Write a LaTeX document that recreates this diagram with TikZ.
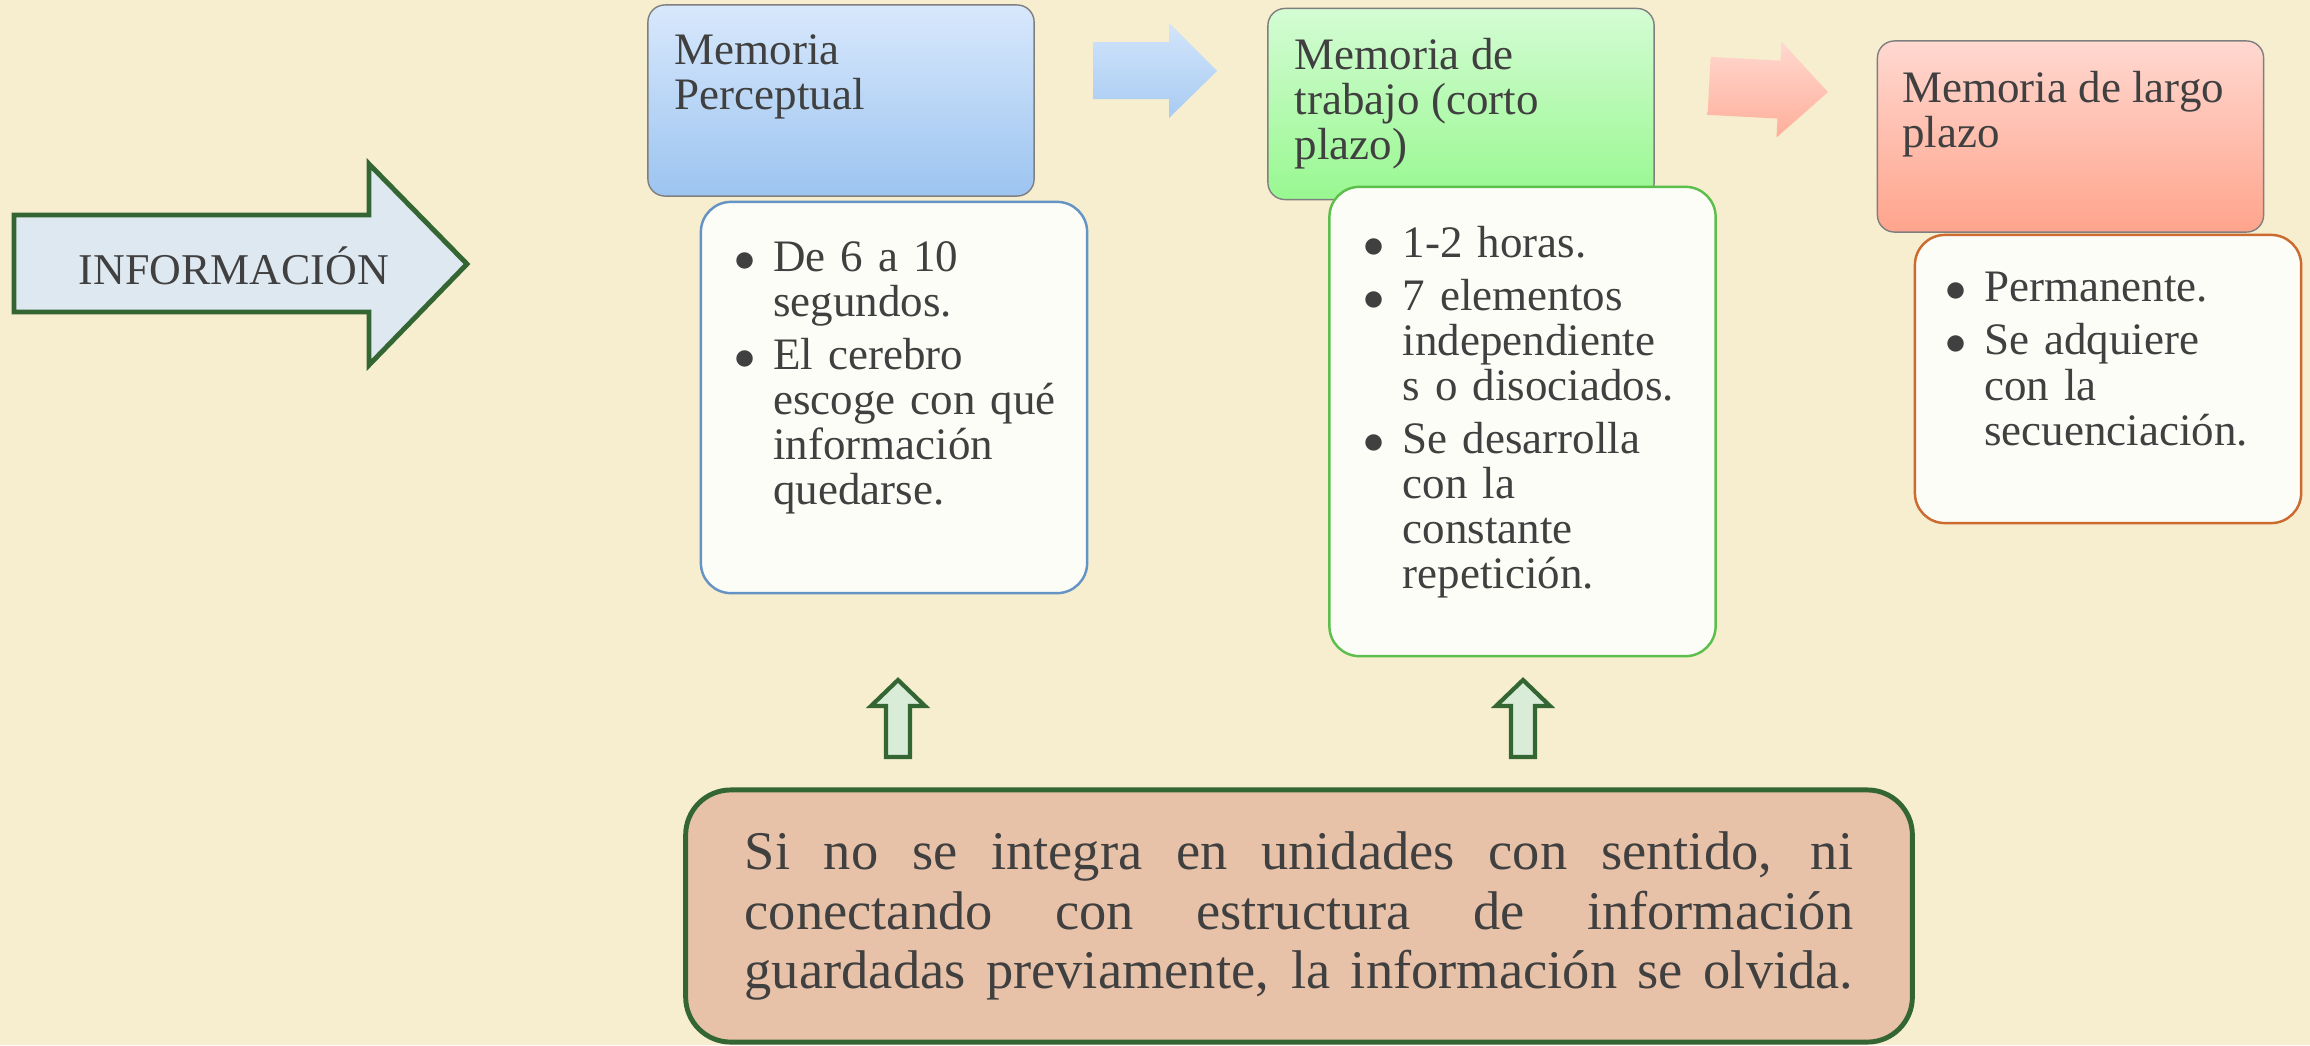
\documentclass[tikz,border=0pt]{standalone}
\usepackage{fontspec}
\setmainfont{Liberation Serif}
\usetikzlibrary{positioning}
\definecolor{fondo}{HTML}{F6EECF}
\definecolor{texto}{HTML}{404040}
\definecolor{verde}{HTML}{336633}
\definecolor{infofill}{HTML}{DEE8F1}
\definecolor{borde}{HTML}{7F7F7F}
\definecolor{papel}{HTML}{FDFDF8}
\definecolor{azulA}{HTML}{D8E8FC}
\definecolor{azulB}{HTML}{9CC4F0}
\definecolor{verdeA}{HTML}{D4FCD4}
\definecolor{verdeB}{HTML}{98F890}
\definecolor{rosaA}{HTML}{FFD8D0}
\definecolor{rosaB}{HTML}{FFA48C}
\definecolor{bordeAzul}{HTML}{6594C4}
\definecolor{bordeVerde}{HTML}{5CBF4C}
\definecolor{bordeRosa}{HTML}{CC6A30}
\definecolor{salmon}{HTML}{E8C2A8}
\definecolor{subir}{HTML}{D8ECD8}
\newcommand{\punto}[1]{\noindent\llap{$\bullet$\hspace{0.18cm}}#1\par}
\tikzset{
  cabeza/.style = {rounded corners=0.17cm, draw=borde, line width=0.4pt,
    minimum width=3.86cm, minimum height=1.91cm, inner sep=0pt},% cabecera de memoria
  caja/.style = {rounded corners=0.3cm, fill=papel, line width=0.7pt,
    minimum width=3.86cm, inner sep=0pt},% caja de puntos
  titulo/.style = {inner sep=0pt, align=left, text=texto,
    font=\fontsize{12.8}{12.8}\selectfont},
  lista/.style = {inner sep=0pt, text width=3.2cm, align=left, text=texto,
    font=\fontsize{12.8}{12.8}\selectfont},
  bloque/.style = {draw=verde, line width=1.4pt, fill=infofill, line join=miter},% flecha grande
  flechita/.style = {draw=verde, line width=1.2pt, fill=subir, line join=miter},% flecha hacia arriba
  nota/.style = {rounded corners=0.45cm, draw=verde, line width=1.4pt, fill=salmon,
    minimum width=12.26cm, minimum height=2.52cm, text width=11.08cm, align=justify,
    text=texto, font=\fontsize{15.5}{17}\selectfont}
}

\begin{document}
\begin{tikzpicture}[x=0.01cm, y=-0.01cm]
  \fill[fondo] (0,0) rectangle (2310,1045);
  \useasboundingbox (0,0) rectangle (2310,1045);

  % informacion
  \draw[bloque] (14,215) -- (369,215) -- (369,164) -- (467,264) -- (369,365)
    -- (369,312) -- (14,312) -- cycle;
  \node[text=texto, font=\fontsize{12.5}{12.5}\selectfont] (info) at (234,266) {INFORMACIÓN};

  % cabeceras
  \node[cabeza, top color=azulA, bottom color=azulB] (m1) at (841,100.5) {};
  \node[cabeza, top color=verdeA, bottom color=verdeB] (m2) at (1461,104) {};
  \node[cabeza, top color=rosaA, bottom color=rosaB] (m3) at (2070.5,136.5) {};

  % flechas entre cabeceras
  \shade[top color=azulA!90!azulB, bottom color=azulB!80!azulA]
    (1093,42) -- (1169,42) -- (1169,23) -- (1217,71) -- (1169,118) -- (1169,99)
    -- (1093,99) -- cycle;
  \shade[top color=rosaA, bottom color=rosaB!80!rosaA, rotate around={-3:(1768,89)}]
    (1709,60) -- (1779,60) -- (1779,41) -- (1828,89) -- (1779,137) -- (1779,118)
    -- (1709,118) -- cycle;

  % cajas de puntos
  \node[caja, draw=bordeAzul, minimum height=3.91cm] (c1) at (894,397.5) {};
  \node[caja, draw=bordeVerde, minimum height=4.69cm] (c2) at (1522.5,421.5) {};
  \node[caja, draw=bordeRosa, minimum height=2.88cm] (c3) at (2108,379) {};

  \node[titulo, below right=0.30cm and 0.27cm of m1.north west] (t1) {Memoria\\Perceptual};
  \node[titulo, below right=0.30cm and 0.27cm of m2.north west] (t2) {Memoria de\\trabajo (corto\\plazo)};
  \node[titulo, below right=0.30cm and 0.25cm of m3.north west] (t3) {Memoria de largo\\plazo};

  \node[lista, below right=0.40cm and 0.73cm of c1.north west] (l1)
    {\punto{De 6 a 10\\segundos.}\vspace{2.3pt}%
     \punto{El cerebro\\escoge con qué\\información\\quedarse.}};
  \node[lista, below right=0.40cm and 0.74cm of c2.north west] (l2)
    {\punto{1-2 horas.}\vspace{2.3pt}%
     \punto{7 elementos\\independiente\\s o disociados.}\vspace{2.3pt}%
     \punto{Se desarrolla\\con la\\constante\\repetición.}};
  \node[lista, below right=0.38cm and 0.70cm of c3.north west] (l3)
    {\punto{Permanente.}\vspace{2.3pt}%
     \punto{Se adquiere\\con la\\secuenciación.}};

  % flechas hacia arriba
  \draw[flechita] (886,757) -- (886,706) -- (871,706) -- (898,680) -- (925,706)
    -- (910,706) -- (910,757) -- cycle;
  \draw[flechita] (1511,757) -- (1511,706) -- (1496,706) -- (1523,680) -- (1550,706)
    -- (1535,706) -- (1535,757) -- cycle;

  % nota final
  \node[nota] (n) at (1299,916)
    {\parfillskip=0pt Si no se integra en unidades con sentido, ni\linebreak
     conectando con estructura de información\linebreak
     guardadas previamente, la información se olvida.\par};
\end{tikzpicture}
\end{document}
